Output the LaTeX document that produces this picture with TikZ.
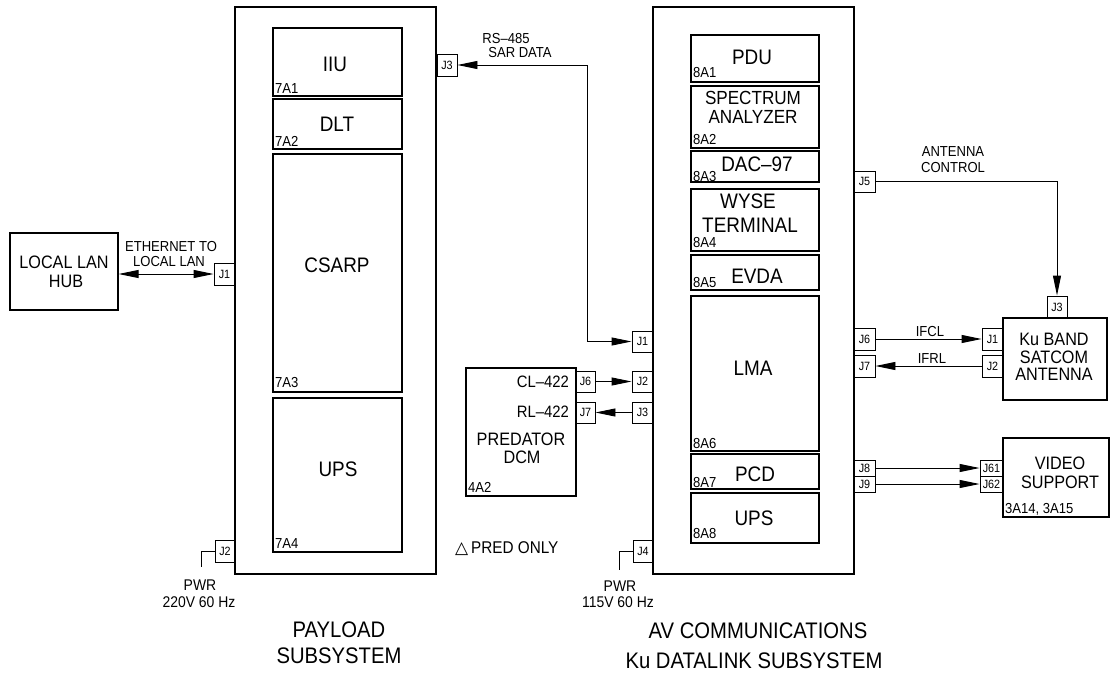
\documentclass[tikz,border=0pt]{standalone}
\usepackage{fontspec}
\setmainfont{Liberation Sans}[FakeStretch=0.9]
\newfontfamily\dejavu{DejaVu Sans}
\usetikzlibrary{arrows.meta,fit}
\newcommand\fsz[1]{\fontsize{#1}{#1}\selectfont}
\begin{document}
\begin{tikzpicture}[x=1pt,y=-1pt,
  bx/.style={draw=black,line width=1.2pt,inner sep=0pt},
  ibx/.style={draw=black,line width=1.1pt,inner sep=0pt},
  jb/.style={draw=black,line width=0.9pt,inner sep=0pt,font=\fsz{12}},
  txt/.style={inner sep=0pt,anchor=base},
  txl/.style={inner sep=0pt,anchor=base west},
  big/.style={txt,font=\fsz{21}},
  des/.style={txl,font=\fsz{14.5}},
  ln/.style={draw=black,line width=0.9pt},
  tip/.style={-{Triangle[length=20pt,width=8pt]}},
  dtip/.style={{Triangle[length=20pt,width=8pt]}-{Triangle[length=20pt,width=8pt]}}]
\useasboundingbox (0,0) rectangle (1111,672);

% ---------- LOCAL LAN HUB ----------
\node[bx,fit={(10,233) (118,310)}] (hub) {};
\node[txt,font=\fsz{18}] (hubt1) at (64,268) {LOCAL LAN};
\node[txt,font=\fsz{18}] (hubt2) at (66,287) {HUB};

% ---------- PAYLOAD ----------
\node[bx,fit={(235,7) (436,574)}] (payload) {};
\node[ibx,fit={(273,28) (402,96)}] (iiu) {};
\node[ibx,fit={(273,99) (402,149)}] (dlt) {};
\node[ibx,fit={(273,154) (402,392)}] (csarp) {};
\node[ibx,fit={(273,398) (402,552)}] (pups) {};
\node[big] (iiut) at (335,71) {IIU};
\node[big] (dltt) at (337,131) {DLT};
\node[big] (csarpt) at (337,272) {CSARP};
\node[big] (pupst) at (338,476) {UPS};
\node[des] (d7a1) at (275,93) {7A1};
\node[des] (d7a2) at (275,146) {7A2};
\node[des] (d7a3) at (275,387) {7A3};
\node[des] (d7a4) at (275,548) {7A4};

\node[jb,minimum width=21pt,minimum height=22pt] (pj1) at (224.5,274) {J1};
\node[jb,minimum width=20pt,minimum height=22pt] (pj3) at (447,65) {J3};
\node[jb,minimum width=20pt,minimum height=22pt] (pj2) at (225,551) {J2};

% ---------- AV COMMUNICATIONS ----------
\node[bx,fit={(653,7) (854,574)}] (av) {};
\node[ibx,fit={(691,35) (819,82)}] (pdu) {};
\node[ibx,fit={(691,86) (819,148)}] (spec) {};
\node[ibx,fit={(691,151) (819,182)}] (dac) {};
\node[ibx,fit={(691,189) (819,251)}] (wyse) {};
\node[ibx,fit={(691,255) (819,290)}] (evda) {};
\node[ibx,fit={(691,296) (819,451)}] (lma) {};
\node[ibx,fit={(691,454) (819,489)}] (pcd) {};
\node[ibx,fit={(691,493) (819,543)}] (aups) {};
\node[big] (pdut) at (752,64) {PDU};
\node[txt,font=\fsz{19}] (spect1) at (753,104) {SPECTRUM};
\node[txt,font=\fsz{19}] (spect2) at (753,123) {ANALYZER};
\node[big] (dact) at (757,171) {DAC--97};
\node[big] (wyset1) at (748,208) {WYSE};
\node[big] (wyset2) at (750,232) {TERMINAL};
\node[big] (evdat) at (757,283) {EVDA};
\node[big] (lmat) at (753,375) {LMA};
\node[big] (pcdt) at (755,481) {PCD};
\node[big] (aupst) at (754,525) {UPS};
\node[des] (d8a1) at (693,77) {8A1};
\node[des] (d8a2) at (693,144) {8A2};
\node[des] (d8a3) at (693,181) {8A3};
\node[des] (d8a4) at (693,247) {8A4};
\node[des] (d8a5) at (693,287) {8A5};
\node[des] (d8a6) at (693,448) {8A6};
\node[des] (d8a7) at (693,487) {8A7};
\node[des] (d8a8) at (693,538) {8A8};

\node[jb,minimum width=21pt,minimum height=21pt] (aj1) at (642.5,341.5) {J1};
\node[jb,minimum width=21pt,minimum height=21pt] (aj2) at (642.5,381.5) {J2};
\node[jb,minimum width=21pt,minimum height=21pt] (aj3) at (642.5,412.5) {J3};
\node[jb,minimum width=20pt,minimum height=22pt] (aj4) at (643,551) {J4};
\node[jb,minimum width=21pt,minimum height=21pt] (aj5) at (864.5,181.5) {J5};
\node[jb,minimum width=21pt,minimum height=22pt] (aj6) at (864.5,339) {J6};
\node[jb,minimum width=21pt,minimum height=22pt] (aj7) at (864.5,366) {J7};
\node[jb,minimum width=21pt,minimum height=16pt] (aj8) at (864.5,468) {J8};
\node[jb,minimum width=21pt,minimum height=16pt] (aj9) at (864.5,484) {J9};

% ---------- PREDATOR DCM ----------
\node[bx,fit={(466,368) (576,496)}] (dcm) {};
\node[txt,anchor=base east,font=\fsz{16.5}] (cl) at (569,387) {CL--422};
\node[txt,anchor=base east,font=\fsz{16.5}] (rl) at (569,417) {RL--422};
\node[txt,font=\fsz{18}] (dcmt1) at (521,445) {PREDATOR};
\node[txt,font=\fsz{18}] (dcmt2) at (522,463) {DCM};
\node[des] (d4a2) at (468,492) {4A2};
\node[jb,minimum width=19pt,minimum height=21pt] (dj6) at (585.5,381.5) {J6};
\node[jb,minimum width=19pt,minimum height=21pt] (dj7) at (585.5,412.5) {J7};

% ---------- Ku BAND SATCOM ANTENNA ----------
\node[bx,fit={(1003,318) (1107,400)}] (ku) {};
\node[txt,font=\fsz{18}] (kut1) at (1054,345) {Ku BAND};
\node[txt,font=\fsz{18}] (kut2) at (1054,363) {SATCOM};
\node[txt,font=\fsz{18}] (kut3) at (1054,380) {ANTENNA};
\node[jb,minimum width=20pt,minimum height=22pt] (kj3) at (1057,307) {J3};
\node[jb,minimum width=21pt,minimum height=22pt] (kj1) at (992.5,339) {J1};
\node[jb,minimum width=21pt,minimum height=22pt] (kj2) at (992.5,366) {J2};

% ---------- VIDEO SUPPORT ----------
\node[bx,fit={(1003,438) (1109,517)}] (video) {};
\node[txt,font=\fsz{18}] (vt1) at (1060,469) {VIDEO};
\node[txt,font=\fsz{18}] (vt2) at (1060,488) {SUPPORT};
\node[des] (d3a) at (1005,513) {3A14, 3A15};
\node[jb,minimum width=23pt,minimum height=16pt] (vj61) at (991.5,468) {J61};
\node[jb,minimum width=23pt,minimum height=16pt] (vj62) at (991.5,484) {J62};

% ---------- connectors ----------
\draw[ln,dtip] (pj1.west -| hub.east) -- (pj1.west);
\node[txt,font=\fsz{14.5}] (eth1) at (171,251) {ETHERNET TO};
\node[txt,font=\fsz{14.5}] (eth2) at (169,266) {LOCAL LAN};

\coordinate (sarb) at (587,65);
\draw[ln,dtip] (aj1.west) -| (sarb) -- (pj3.east);
\node[txt,font=\fsz{14.5}] (rs1) at (506,43) {RS--485};
\node[txt,font=\fsz{14.5}] (rs2) at (520,57) {SAR DATA};

\draw[ln,tip] (dj6.east) -- (aj2.west);
\draw[ln,tip] (aj3.west) -- (dj7.east);

\draw[ln,tip] (aj5.east) -| (kj3.north);
\node[txt,font=\fsz{14.5}] (ant1) at (953,156) {ANTENNA};
\node[txt,font=\fsz{14.5}] (ant2) at (953,172) {CONTROL};

\draw[ln,tip] (aj6.east) -- (kj1.west);
\node[txt,font=\fsz{14.5}] (ifcl) at (930,336) {IFCL};
\draw[ln,tip] (kj2.west) -- (aj7.east);
\node[txt,font=\fsz{14.5}] (ifrl) at (932,363) {IFRL};

\draw[ln,tip] (aj8.east) -- (vj61.west);
\draw[ln,tip] (aj9.east) -- (vj62.west);

\coordinate (pwrp) at (201,567);
\draw[ln] (pj2.west) -| (pwrp);
\node[txt,font=\fsz{15.5}] (pwrp1) at (200,590) {PWR};
\node[txt,font=\fsz{15.5}] (pwrp2) at (199,607) {220V 60 Hz};

\coordinate (pwra) at (619,570);
\draw[ln] (aj4.west) -| (pwra);
\node[txt,font=\fsz{15.5}] (pwra1) at (620,591) {PWR};
\node[txt,font=\fsz{15.5}] (pwra2) at (618,607) {115V 60 Hz};

\node[txl,font=\fsz{17}] (pred) at (455,553) {{\dejavu △}\,PRED ONLY};

% ---------- titles ----------
\node[txt,font=\fsz{22.5}] (tp1) at (339,637) {PAYLOAD};
\node[txt,font=\fsz{22.5}] (tp2) at (339,663) {SUBSYSTEM};
\node[txt,font=\fsz{22.5}] (ta1) at (758,638) {AV COMMUNICATIONS};
\node[txt,font=\fsz{22.5}] (ta2) at (754,668) {Ku DATALINK SUBSYSTEM};
\end{tikzpicture}
\end{document}
